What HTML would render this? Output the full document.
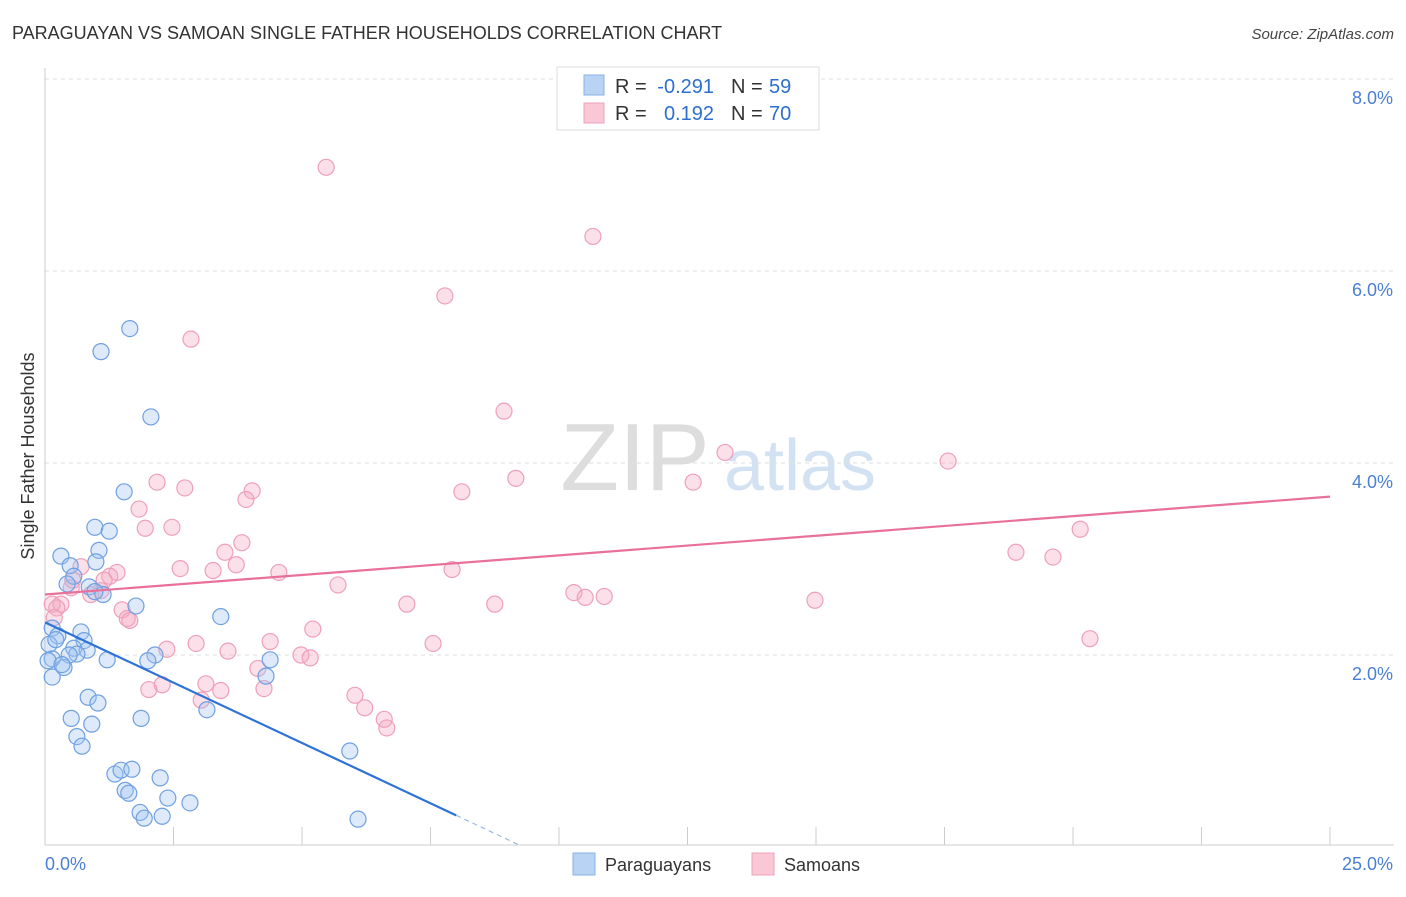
<!DOCTYPE html>
<html><head><meta charset="utf-8">
<style>
body{margin:0;background:#fff;font-family:"Liberation Sans",sans-serif;}
svg text{font-family:"Liberation Sans",sans-serif;}
</style></head>
<body>
<svg id="chart" width="1406" height="892" xmlns="http://www.w3.org/2000/svg">
<text x="12" y="39" font-size="18" fill="#333">PARAGUAYAN VS SAMOAN SINGLE FATHER HOUSEHOLDS CORRELATION CHART</text>
<text x="1394" y="39" font-size="15" fill="#444" text-anchor="end" font-style="italic">Source: ZipAtlas.com</text>
<g>
<text x="635" y="490" font-size="96" fill="#ddd" font-family="Liberation Serif" text-anchor="middle">ZIP</text>
<text x="800" y="490" font-size="72" fill="#d3e2f3" text-anchor="middle">atlas</text>
</g>
<g id="grid"></g>
<g id="axes"></g>
<text transform="translate(34,456) rotate(-90)" font-size="18" fill="#333" text-anchor="middle">Single Father Households</text>
<g id="pts"></g>
<g id="trends"></g>
<g>
<rect x="557" y="67" width="262" height="63" fill="#fff" stroke="#ddd"/>
<rect x="584" y="75" width="20" height="20" fill="#b9d3f5" stroke="#8ab2e8"/>
<rect x="584" y="103" width="20" height="20" fill="#f9c7d6" stroke="#eea3ba"/>
<text x="615" y="93" font-size="20" fill="#333">R =</text>
<text x="714" y="93" font-size="20" fill="#2d6fd1" text-anchor="end">-0.291</text>
<text x="731" y="93" font-size="20" fill="#333">N =</text>
<text x="769" y="93" font-size="20" fill="#2d6fd1">59</text>
<text x="615" y="120" font-size="20" fill="#333">R =</text>
<text x="714" y="120" font-size="20" fill="#2d6fd1" text-anchor="end">0.192</text>
<text x="731" y="120" font-size="20" fill="#333">N =</text>
<text x="769" y="120" font-size="20" fill="#2d6fd1">70</text>
</g>
<g>
<rect x="573" y="853" width="22" height="22" fill="#b9d3f5" stroke="#8ab2e8"/>
<text x="605" y="871" font-size="18" fill="#333">Paraguayans</text>
<rect x="752" y="853" width="22" height="22" fill="#f9c7d6" stroke="#eea3ba"/>
<text x="784" y="871" font-size="18" fill="#333">Samoans</text>
</g>
</svg>
<script>
const xTicks=[0,2.5,5,7.5,10,12.5,15,17.5,20,22.5,25];
const yTicks=[2,4,6,8];
const yTickLabels=["2.0%","4.0%","6.0%","8.0%"];
const blueX=[1.65,1.09,2.06,1.54,0.97,1.25,0.31,1.05,0.99,0.49,0.56,0.43,0.86,1.13,0.97,1.77,3.42,0.14,0.25,0.70,0.76,0.08,0.21,0.56,0.82,0.62,0.47,2.14,2.00,1.21,0.14,0.06,4.38,0.37,0.33,0.14,4.30,0.84,1.03,3.15,0.51,1.87,0.91,0.62,0.72,5.93,1.36,1.48,1.69,2.24,1.56,1.63,2.39,2.82,1.85,1.93,2.28,6.09];
const blueY=[5.40,5.16,4.48,3.70,3.33,3.29,3.03,3.09,2.97,2.93,2.82,2.74,2.71,2.63,2.66,2.51,2.40,2.28,2.20,2.24,2.15,2.11,2.16,2.07,2.05,2.01,2.00,2.00,1.94,1.95,1.96,1.94,1.95,1.87,1.90,1.77,1.78,1.56,1.50,1.43,1.34,1.34,1.28,1.15,1.05,1.00,0.76,0.80,0.81,0.72,0.59,0.56,0.51,0.46,0.36,0.30,0.32,0.29];
const pinkX=[5.47,10.66,7.78,2.84,8.93,13.23,17.57,9.16,8.11,12.61,2.18,2.72,4.03,3.91,1.83,2.47,1.95,20.14,3.83,3.50,18.89,19.61,3.72,2.63,3.27,4.55,1.40,0.70,1.26,0.54,1.15,1.09,0.89,0.51,5.70,7.92,10.29,10.51,10.88,14.98,7.04,8.75,0.14,0.31,0.23,1.50,0.18,1.60,1.65,5.21,20.33,4.38,2.94,7.55,2.37,3.56,4.98,5.16,4.14,3.13,4.26,2.28,2.02,3.42,3.04,6.03,6.22,6.60,6.65];
const pinkY=[7.08,6.36,5.74,5.29,4.54,4.11,4.02,3.84,3.70,3.80,3.80,3.74,3.71,3.62,3.52,3.33,3.32,3.31,3.17,3.07,3.07,3.02,2.94,2.90,2.88,2.86,2.86,2.92,2.82,2.78,2.78,2.67,2.63,2.70,2.73,2.89,2.65,2.60,2.61,2.57,2.53,2.53,2.53,2.53,2.49,2.47,2.39,2.38,2.36,2.27,2.17,2.14,2.12,2.12,2.06,2.04,2.00,1.97,1.86,1.70,1.65,1.69,1.64,1.63,1.53,1.58,1.45,1.33,1.24];
const blueTrend=[[0,2.34],[8.0,0.33]];
const blueDash=[[8.0,0.33],[9.23,0.02]];
const pinkTrend=[[0,2.63],[25,3.65]];
const NS="http://www.w3.org/2000/svg";
const X=v=>45+v/25*1285, Y=v=>847-v*96;
function mk(t,a,p){const e=document.createElementNS(NS,t);for(const k in a)e.setAttribute(k,a[k]);p.appendChild(e);return e;}
const grid=document.getElementById('grid'),axes=document.getElementById('axes');
yTicks.forEach((t,i)=>{
 const l=mk('line',{x1:45,x2:1394,y1:Y(t),y2:Y(t),stroke:'#ddd','stroke-dasharray':'4,4'},grid);
 
 const tx=mk('text',{x:1393,y:Y(t)+25,'font-size':18,fill:'#4a7fd4','text-anchor':'end'},axes);
 tx.textContent=yTickLabels[i];
 
});
mk('line',{x1:45,x2:45,y1:68,y2:845,stroke:'#ccc'},axes);
mk('line',{x1:45,x2:1394,y1:845,y2:845,stroke:'#ccc'},axes);
xTicks.forEach(t=>{const l=mk('line',{x1:X(t),x2:X(t),y1:827,y2:845,stroke:'#ccc'},axes);
 });
let a=mk('text',{x:45,y:870,'font-size':18,fill:'#4a7fd4'},axes);a.textContent="0.0%";

a=mk('text',{x:1393,y:870,'font-size':18,fill:'#4a7fd4','text-anchor':'end'},axes);a.textContent="25.0%";

const pts=document.getElementById('pts');
pinkX.forEach((v,i)=>{const c=mk('circle',{cx:X(v),cy:Y(pinkY[i]),r:8,fill:'rgba(244,167,192,0.35)',stroke:'#eea0b9','stroke-width':1.2},pts);
 });
blueX.forEach((v,i)=>{const c=mk('circle',{cx:X(v),cy:Y(blueY[i]),r:8,fill:'rgba(160,196,240,0.35)',stroke:'#6fa0e0','stroke-width':1.2},pts);
 });
const tr=document.getElementById('trends');
let t=mk('line',{x1:X(blueTrend[0][0]),y1:Y(blueTrend[0][1]),x2:X(blueTrend[1][0]),y2:Y(blueTrend[1][1]),stroke:'#2f72d6','stroke-width':2.2},tr);

t=mk('line',{x1:X(blueDash[0][0]),y1:Y(blueDash[0][1]),x2:X(blueDash[1][0]),y2:Y(blueDash[1][1]),stroke:'#9bb8e6','stroke-width':1.2,'stroke-dasharray':'5,4'},tr);

t=mk('line',{x1:X(pinkTrend[0][0]),y1:Y(pinkTrend[0][1]),x2:X(pinkTrend[1][0]),y2:Y(pinkTrend[1][1]),stroke:'#e8709a','stroke-width':2.2},tr);

</script>
</body></html>
